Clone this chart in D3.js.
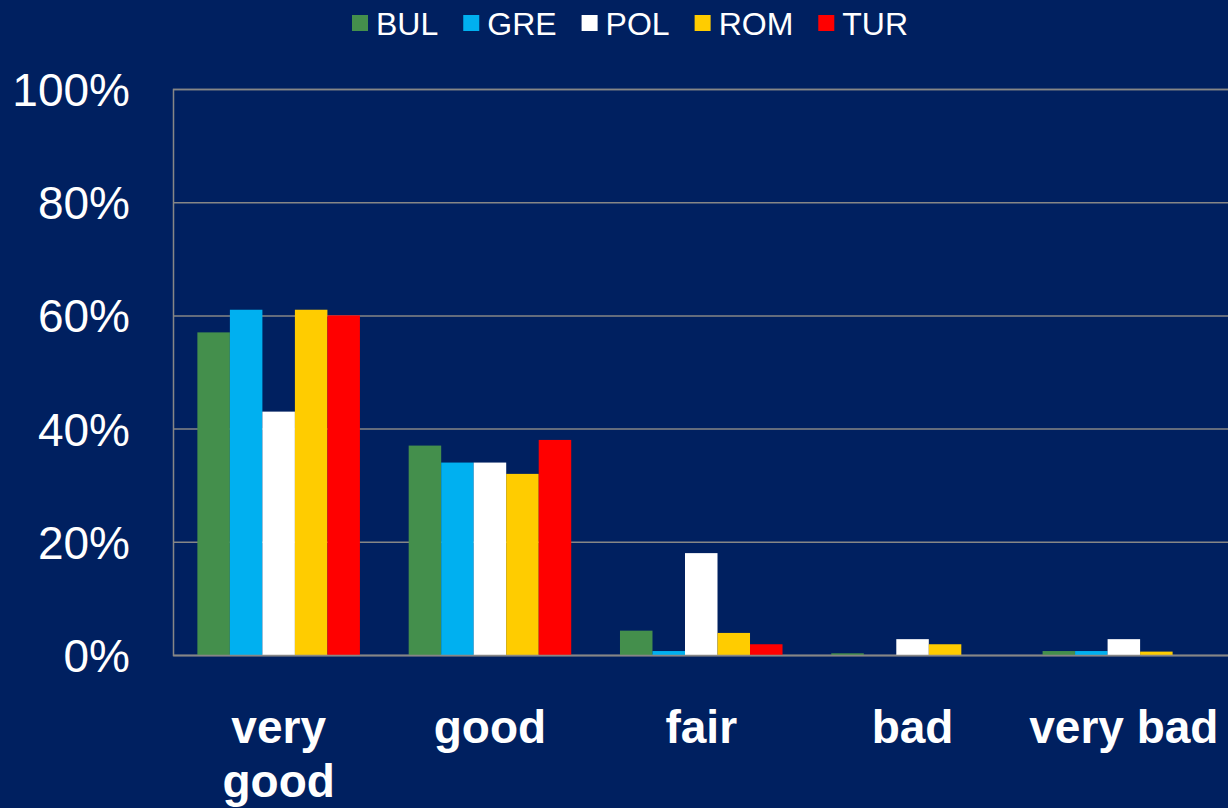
<!DOCTYPE html>
<html>
<head>
<meta charset="utf-8">
<script src="https://cdn.jsdelivr.net/npm/d3@7"></script>
<style>
  html, body { margin: 0; padding: 0; background: #002060; }
  svg { display: block; font-family: "Liberation Sans", Arial, sans-serif; }
</style>
</head>
<body>
<div id="chart"></div>
<script>
// categories along x, wrapped the way the picture shows them
var categories = ["very good", "good", "fair", "bad", "very bad"];
var categoryLines = [["very", "good"], ["good"], ["fair"], ["bad"], ["very bad"]];
var series = ["BUL", "GRE", "POL", "ROM", "TUR"];
var colors = ["#448f4c", "#00b0f0", "#ffffff", "#ffcc00", "#ff0000"];

// shares per category, in %
var BUL = [57, 37, 4.3, 0.3, 0.7];
var GRE = [61, 34, 0.7, 0, 0.7];
var POL = [43, 34, 18, 2.8, 2.8];
var ROM = [61, 32, 3.9, 1.9, 0.6];
var TUR = [60, 38, 1.9, 0, 0];
var values = [BUL, GRE, POL, ROM, TUR];

var yTicks = [0, 0.2, 0.4, 0.6, 0.8, 1];

var width = 1228, height = 808;
var margin = { top: 89, left: 173, bottom: 153 };
var plotRight = 1229.5;

var svg = d3.select("#chart").append("svg")
  .attr("width", width)
  .attr("height", height);

var x = d3.scaleBand().domain(categories).range([margin.left, plotRight]).paddingInner(0).paddingOuter(0);
var xs = d3.scaleBand().domain(series).range([0, x.bandwidth()]).paddingInner(0).paddingOuter(0.75);
var y = d3.scaleLinear().domain([0, 1]).range([height - margin.bottom, margin.top]);

// y axis with gridlines
var yAxis = d3.axisLeft(y)
  .tickValues(yTicks)
  .tickFormat(d3.format(".0%"))
  .tickSize(-(plotRight - margin.left))
  .tickPadding(43);

var gy = svg.append("g")
  .attr("transform", "translate(" + margin.left + ",0)")
  .call(yAxis);
gy.select(".domain").attr("stroke", "#868686").attr("stroke-width", 1.5);
gy.selectAll(".tick line").attr("stroke", "#868686").attr("stroke-width", 1.5);
gy.selectAll(".tick text")
  .attr("fill", "#ffffff")
  .style("font-size", "46px")
  .attr("dy", "0.36em");

// bars
var groups = svg.append("g").selectAll("g")
  .data(categories)
  .join("g")
  .attr("transform", function(d) { return "translate(" + x(d) + ",0)"; });

groups.selectAll("rect")
  .data(function(d, i) {
    return series.map(function(s, j) { return { s: s, v: values[j][i] / 100, c: colors[j] }; });
  })
  .join("rect")
  .attr("x", function(d) { return xs(d.s); })
  .attr("y", function(d) { return y(d.v); })
  .attr("width", xs.bandwidth())
  .attr("height", function(d) { return y(0) - y(d.v); })
  .attr("fill", function(d) { return d.c; });

// x axis
var xAxis = d3.axisBottom(x).tickSize(0).tickFormat("");
var gx = svg.append("g")
  .attr("transform", "translate(0," + y(0) + ")")
  .call(xAxis);
gx.select(".domain").attr("stroke", "#868686").attr("stroke-width", 1.5);

gx.selectAll(".tick").each(function(d, i) {
  var t = d3.select(this).append("text")
    .attr("fill", "#ffffff")
    .attr("text-anchor", "middle")
    .style("font-size", "46px")
    .style("font-weight", "bold")
    .attr("y", 88);
  categoryLines[i].forEach(function(line, k) {
    t.append("tspan").attr("x", 0).attr("dy", k == 0 ? 0 : 54).text(line);
  });
});

// legend
var legend = svg.append("g").attr("transform", "translate(0,23)");
var pos = 352;
series.forEach(function(s, i) {
  var item = legend.append("g").attr("transform", "translate(" + pos + ",0)");
  item.append("rect")
    .attr("x", 0).attr("y", -8)
    .attr("width", 16).attr("height", 16)
    .attr("fill", colors[i]);
  var txt = item.append("text")
    .attr("x", 24)
    .attr("dy", "0.36em")
    .attr("fill", "#ffffff")
    .style("font-size", "32px")
    .text(s);
  pos += 24 + txt.node().getComputedTextLength() + 25;
});
</script>
</body>
</html>
